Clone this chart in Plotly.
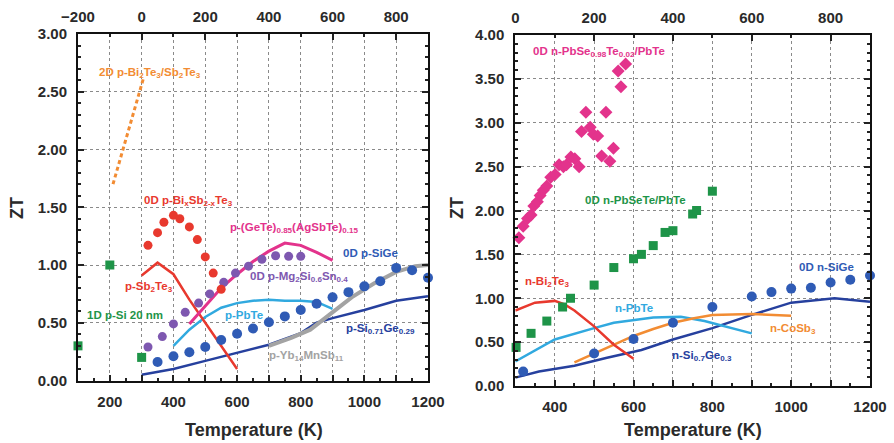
import plotly.graph_objects as go

# ---------------- Left panel (p-type) ----------------
bisbte_T = [320, 350, 370, 400, 420, 450, 475, 500, 525, 550]
bisbte_ZT = [1.17, 1.28, 1.37, 1.43, 1.40, 1.33, 1.22, 1.07, 0.93, 0.79]

sb2te3_T = [300, 350, 400, 450, 500, 550, 600]
sb2te3_ZT = [0.91, 1.02, 0.92, 0.70, 0.50, 0.30, 0.10]

gete_T = [450, 500, 550, 600, 650, 700, 750, 800, 850, 900]
gete_ZT = [0.49, 0.65, 0.80, 0.92, 1.03, 1.12, 1.19, 1.17, 1.11, 1.04]

mg_T = [320, 365, 400, 437, 479, 514, 558, 595, 636, 678, 721, 762, 800]
mg_ZT = [0.29, 0.38, 0.49, 0.59, 0.67, 0.75, 0.85, 0.93, 0.99, 1.05, 1.08, 1.075, 1.075]

psige_T = [350, 400, 450, 500, 550, 600, 650, 700, 750, 800, 850, 900, 950, 1000, 1050, 1100, 1150, 1200]
psige_ZT = [0.16, 0.21, 0.245, 0.29, 0.35, 0.405, 0.45, 0.505, 0.555, 0.61, 0.665, 0.72, 0.765, 0.815, 0.86, 0.975, 0.955, 0.89]

ppbte_T = [400, 450, 500, 550, 600, 650, 700, 750, 800, 850, 900]
ppbte_ZT = [0.30, 0.44, 0.55, 0.63, 0.67, 0.69, 0.70, 0.69, 0.69, 0.68, 0.62]

psige_bulk_T = [300, 400, 500, 600, 700, 800, 850, 900, 1000, 1100, 1200]
psige_bulk_ZT = [0.05, 0.10, 0.17, 0.24, 0.31, 0.41, 0.50, 0.54, 0.61, 0.69, 0.73]

yb_T = [700, 770, 830, 900, 960, 1030, 1100, 1160, 1200]
yb_ZT = [0.30, 0.37, 0.44, 0.59, 0.72, 0.84, 0.94, 0.99, 1.00]

si20_T = [100, 200, 300]
si20_ZT = [0.30, 1.00, 0.20]

bi2d_T = [210, 305]
bi2d_ZT = [1.70, 2.61]

# ---------------- Right panel (n-type) ----------------
pbse_T = [299, 309, 320, 331, 340, 347, 356, 363, 371, 380, 390, 401, 411, 422, 430,
          441, 451, 462, 468, 479, 490, 498, 509, 519, 530, 540, 549, 561, 568, 580]
pbse_ZT = [1.60, 1.69, 1.82, 1.91, 1.95, 2.05, 2.10, 2.17, 2.23, 2.28, 2.38, 2.41, 2.52, 2.50, 2.52,
           2.61, 2.59, 2.50, 2.90, 3.12, 2.95, 2.87, 2.85, 2.62, 3.12, 2.56, 2.71, 3.59, 3.41, 3.67]

pbsete_T = [302, 340, 380, 420, 440, 500, 550, 600, 620, 650, 680, 700, 750, 760, 800]
pbsete_ZT = [0.44, 0.60, 0.74, 0.90, 1.00, 1.15, 1.35, 1.45, 1.50, 1.60, 1.75, 1.77, 1.96, 2.00, 2.22]

nsige_T = [320, 500, 600, 700, 800, 900, 950, 1000, 1050, 1100, 1150, 1200]
nsige_ZT = [0.165, 0.37, 0.535, 0.72, 0.90, 1.02, 1.07, 1.11, 1.12, 1.18, 1.21, 1.26]

nbi_T = [300, 350, 400, 425, 450, 500, 550, 600]
nbi_ZT = [0.86, 0.95, 0.97, 0.93, 0.86, 0.68, 0.47, 0.31]

npbte_T = [300, 400, 500, 550, 650, 720, 780, 850, 900]
npbte_ZT = [0.28, 0.53, 0.66, 0.72, 0.78, 0.79, 0.74, 0.66, 0.60]

cosb_T = [450, 500, 550, 600, 650, 700, 750, 800, 900, 1000]
cosb_ZT = [0.27, 0.37, 0.47, 0.57, 0.65, 0.72, 0.77, 0.81, 0.82, 0.80]

nsige_bulk_T = [300, 360, 450, 530, 620, 700, 800, 900, 1000, 1110, 1200]
nsige_bulk_ZT = [0.095, 0.165, 0.23, 0.32, 0.41, 0.53, 0.66, 0.81, 0.95, 1.00, 0.96]

# tick labels
left_ticks = list(range(100, 1201, 100))
left_ticktext = [str(v) if v % 200 == 0 else "" for v in left_ticks]
right_ticks = list(range(300, 1201, 100))
right_ticktext = [str(v) if v % 200 == 0 else "" for v in right_ticks]
top_left_ticks = [-200, 0, 200, 400, 600, 800]
top_right_ticks = [0, 200, 400, 600, 800]

RED = "#e8392e"
MAG = "#e3338c"
PURP = "#7e58b0"
BLUE = "#2f5bb5"
DBLUE = "#26409e"
LBLUE = "#31a9df"
GRAY = "#a3a3a3"
GREEN = "#1e9448"
ORANGE = "#f28c33"

fig = go.Figure()

def add(x, y, xa, ya, mode, color, symbol="circle", size=9, width=3, dash=None):
    if mode == "markers":
        fig.add_trace(go.Scatter(x=x, y=y, xaxis=xa, yaxis=ya, mode="markers",
                                 marker=dict(color=color, symbol=symbol, size=size),
                                 cliponaxis=False, showlegend=False, hoverinfo="skip"))
    else:
        fig.add_trace(go.Scatter(x=x, y=y, xaxis=xa, yaxis=ya, mode="lines",
                                 line=dict(color=color, width=width, dash=dash),
                                 showlegend=False, hoverinfo="skip"))

# left panel
add(bi2d_T, bi2d_ZT, "x", "y", "lines", ORANGE, width=3, dash="4px,3px")
add(psige_bulk_T, psige_bulk_ZT, "x", "y", "lines", DBLUE, width=2.5)
add(yb_T, yb_ZT, "x", "y", "lines", GRAY, width=4)
add(ppbte_T, ppbte_ZT, "x", "y", "lines", LBLUE, width=2.5)
add(sb2te3_T, sb2te3_ZT, "x", "y", "lines", RED, width=2.5)
add(gete_T, gete_ZT, "x", "y", "lines", MAG, width=3)
add(mg_T, mg_ZT, "x", "y", "markers", PURP, size=9)
add(psige_T, psige_ZT, "x", "y", "markers", BLUE, size=10)
add(bisbte_T, bisbte_ZT, "x", "y", "markers", RED, size=9)
add(si20_T, si20_ZT, "x", "y", "markers", GREEN, symbol="square", size=9)

# right panel
add(nsige_bulk_T, nsige_bulk_ZT, "x2", "y2", "lines", DBLUE, width=2.5)
add(npbte_T, npbte_ZT, "x2", "y2", "lines", LBLUE, width=2.5)
add(cosb_T, cosb_ZT, "x2", "y2", "lines", ORANGE, width=2.5)
add(nbi_T, nbi_ZT, "x2", "y2", "lines", RED, width=2.5)
add(nsige_T, nsige_ZT, "x2", "y2", "markers", BLUE, size=10)
add(pbsete_T, pbsete_ZT, "x2", "y2", "markers", GREEN, symbol="square", size=9)
add(pbse_T, pbse_ZT, "x2", "y2", "markers", MAG, symbol="diamond", size=10)

FONT = "Liberation Sans, Arial, Helvetica, sans-serif"
TICKFONT = dict(family=FONT, size=15, color="#2a2a2a", weight="bold")

def xax(domain, rng, tickvals, ticktext, anchor):
    return dict(domain=domain, range=rng, anchor=anchor, tickmode="array",
                tickvals=tickvals, ticktext=ticktext, ticks="inside", ticklen=6,
                tickwidth=1.5, tickcolor="#222", showline=True, linecolor="#111",
                linewidth=2, showgrid=True, gridcolor="#8a8a8a", griddash="dot",
                gridwidth=1, zeroline=False, tickfont=TICKFONT, automargin=False,
                minor=dict(dtick=50, ticks="inside", ticklen=3, tickcolor="#222", showgrid=False),
                ticklabelstandoff=6, fixedrange=True)

def yax(domain, rng, anchor):
    return dict(domain=domain, range=rng, anchor=anchor, dtick=0.5, tick0=0,
                tickformat=".2f", ticks="inside", ticklen=6, tickwidth=1.5,
                tickcolor="#222", showline=True, linecolor="#111", linewidth=2,
                mirror="ticks", showgrid=True, gridcolor="#8a8a8a", griddash="dot",
                gridwidth=1, zeroline=False, tickfont=TICKFONT, automargin=False,
                minor=dict(dtick=0.1, ticks="inside", ticklen=3, tickcolor="#222", showgrid=False),
                ticklabelstandoff=6, fixedrange=True)

def topax(overlay, rng, tickvals, anchor):
    return dict(overlaying=overlay, side="top", range=rng, anchor=anchor,
                tickmode="array", tickvals=tickvals, ticks="inside", ticklen=6,
                tickwidth=1.5, tickcolor="#222", showline=True, linecolor="#111",
                linewidth=2, showgrid=False, zeroline=False, tickfont=TICKFONT,
                automargin=False,
                minor=dict(dtick=100, ticks="inside", ticklen=3, tickcolor="#222", showgrid=False),
                ticklabelstandoff=4, fixedrange=True)

LX = [78 / 894, 428 / 894]
RX = [515.3 / 894, 870 / 894]
LY = [(443 - 380.5) / 443, (443 - 34) / 443]
RY = [(443 - 386) / 443, (443 - 35) / 443]

fig.update_layout(
    width=894, height=443, autosize=False,
    margin=dict(l=0, r=0, t=0, b=0, pad=0, autoexpand=False),
    paper_bgcolor="white", plot_bgcolor="white",
    xaxis=xax(LX, [100, 1200], left_ticks, left_ticktext, "y"),
    yaxis=yax(LY, [0, 3], "x"),
    xaxis2=xax(RX, [300, 1200], right_ticks, right_ticktext, "y2"),
    yaxis2=yax(RY, [0, 4], "x2"),
    xaxis3=topax("x", [-200, 900], top_left_ticks, "y"),
    xaxis4=topax("x2", [0, 900], top_right_ticks, "y2"),
)

# dummy traces so top axes are drawn
fig.add_trace(go.Scatter(x=[None], y=[None], xaxis="x3", yaxis="y", showlegend=False))
fig.add_trace(go.Scatter(x=[None], y=[None], xaxis="x4", yaxis="y2", showlegend=False))

def lab(text, x, y, color, xref, yref, size=11.5):
    fig.add_annotation(text=text, x=x, y=y, xref=xref, yref=yref, xanchor="left",
                       yanchor="middle", showarrow=False,
                       font=dict(family=FONT, size=size, color=color, weight="bold"))

# left labels
lab("2D p-Bi<sub>2</sub>Te<sub>3</sub>/Sb<sub>2</sub>Te<sub>3</sub>", 159, 2.66, ORANGE, "x", "y")
lab("0D p-Bi<sub>x</sub>Sb<sub>2-x</sub>Te<sub>3</sub>", 301, 1.55, RED, "x", "y")
lab("p-(GeTe)<sub>0.85</sub>(AgSbTe)<sub>0.15</sub>", 572, 1.32, MAG, "x", "y")
lab("0D p-SiGe", 926, 1.10, BLUE, "x", "y")
lab("0D p-Mg<sub>2</sub>Si<sub>0.6</sub>Sn<sub>0.4</sub>", 635, 0.90, PURP, "x", "y")
lab("p-Sb<sub>2</sub>Te<sub>3</sub>", 241, 0.81, RED, "x", "y")
lab("1D p-Si 20 nm", 121, 0.57, GREEN, "x", "y")
lab("p-PbTe", 556, 0.57, LBLUE, "x", "y")
lab("p-Si<sub>0.71</sub>Ge<sub>0.29</sub>", 935, 0.45, DBLUE, "x", "y")
lab("p-Yb<sub>14</sub>MnSb<sub>11</sub>", 695, 0.21, GRAY, "x", "y")

# right labels
lab("0D n-PbSe<sub>0.98</sub>Te<sub>0.02</sub>/PbTe", 340, 3.81, MAG, "x2", "y2")
lab("0D n-PbSeTe/PbTe", 472, 2.12, GREEN, "x2", "y2")
lab("0D n-SiGe", 1015, 1.36, BLUE, "x2", "y2")
lab("n-Bi<sub>2</sub>Te<sub>3</sub>", 320, 1.18, RED, "x2", "y2")
lab("n-PbTe", 548, 0.89, LBLUE, "x2", "y2")
lab("n-CoSb<sub>3</sub>", 941, 0.65, ORANGE, "x2", "y2")
lab("n-Si<sub>0.7</sub>Ge<sub>0.3</sub>", 692, 0.34, DBLUE, "x2", "y2")

# axis titles
TITLEFONT = dict(family=FONT, size=18, color="#2a2a2a", weight="bold")
for xp in [17 / 894, 457 / 894]:
    fig.add_annotation(text="ZT", x=xp, y=(443 - 208) / 443, xref="paper", yref="paper",
                       xanchor="center", yanchor="middle",
                       textangle=-90, showarrow=False, font=TITLEFONT)
for xp in [254 / 894, 693 / 894]:
    fig.add_annotation(text="Temperature (K)", x=xp, y=(443 - 430) / 443, xref="paper",
                       yref="paper", xanchor="center", yanchor="middle",
                       showarrow=False, font=TITLEFONT)

fig.write_html("out.html", config={"responsive": False, "displayModeBar": False},
               post_script="document.body.style.margin='0';document.body.style.overflow='hidden';")
